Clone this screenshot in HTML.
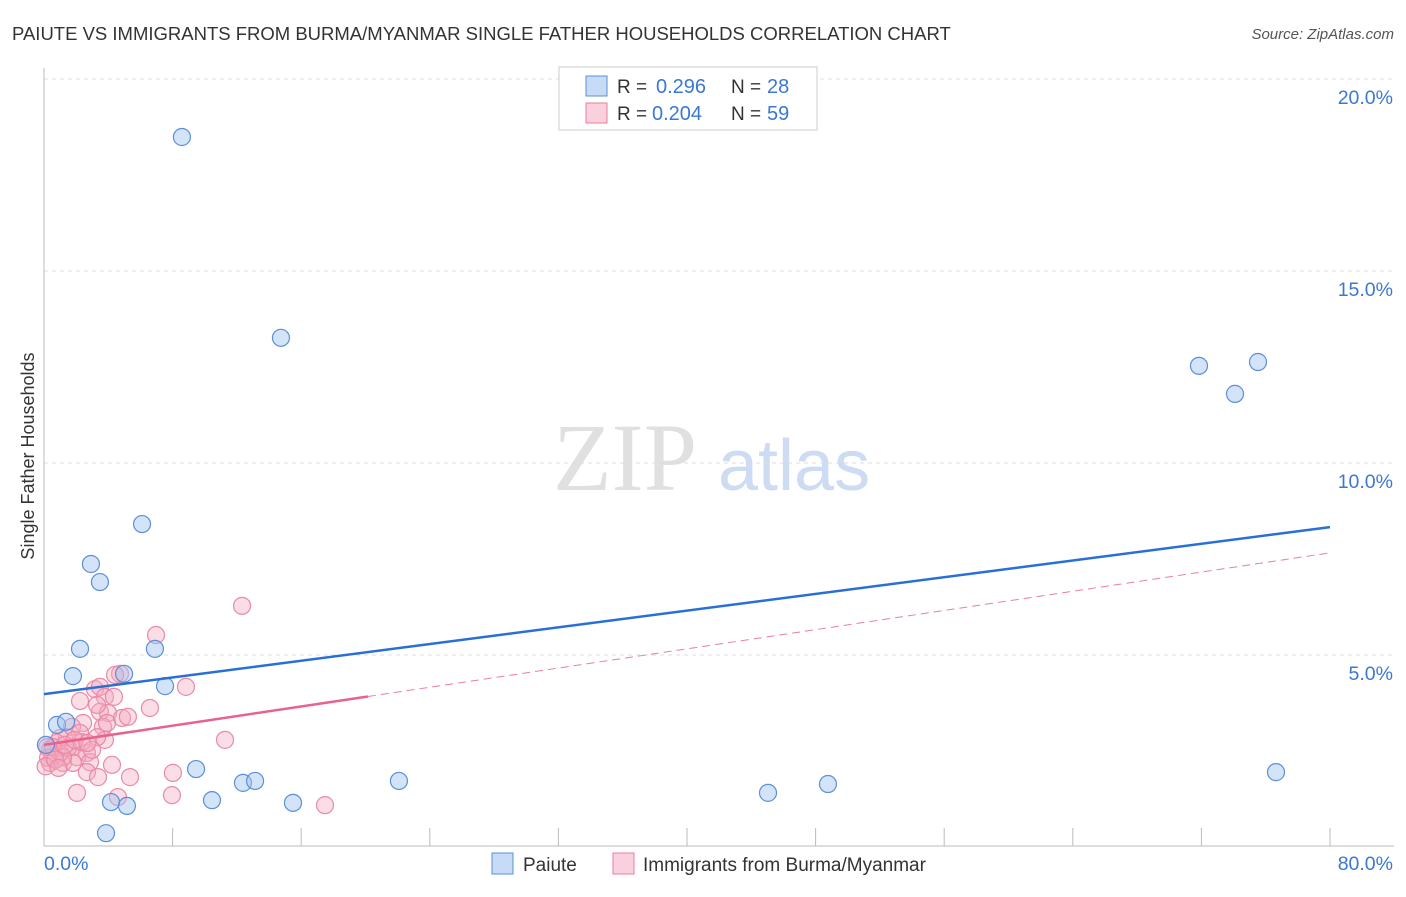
<!DOCTYPE html>
<html><head><meta charset="utf-8"><style>
body{margin:0;background:#fff;font-family:"Liberation Sans",sans-serif}
</style></head><body>
<svg id="chart" width="1406" height="892" xmlns="http://www.w3.org/2000/svg" font-family="Liberation Sans, sans-serif">
<text x="12" y="40" font-size="18.5" fill="#333">PAIUTE VS IMMIGRANTS FROM BURMA/MYANMAR SINGLE FATHER HOUSEHOLDS CORRELATION CHART</text>
<text x="1394" y="39" font-size="15" fill="#555" text-anchor="end" font-style="italic">Source: ZipAtlas.com</text>
<g>
<text x="553" y="490" font-size="96" fill="#e0e0e0" font-family="Liberation Serif, serif">ZIP</text>
<text x="718" y="490" font-size="72" fill="#cddcf3">atlas</text>
</g>
<g id="grid"></g>
<g id="axes"></g>
<g id="marks"></g>
<text transform="translate(34,456) rotate(-90)" font-size="18" fill="#333" text-anchor="middle">Single Father Households</text>
<g>
<rect x="559" y="67" width="258" height="63" fill="#fff" stroke="#ccc"/>
<rect x="586" y="76" width="21" height="20" fill="rgba(160,196,240,0.6)" stroke="#5b8fd9"/>
<rect x="586" y="103" width="21" height="20" fill="rgba(244,170,190,0.55)" stroke="#e87fa0"/>
<text x="617" y="93" font-size="19" fill="#333">R = </text><text x="656" y="93" font-size="20" fill="#3a78d4">0.296</text>
<text x="731" y="93" font-size="19" fill="#333">N = </text><text x="767" y="93" font-size="20" fill="#3a78d4">28</text>
<text x="617" y="120" font-size="19" fill="#333">R = </text><text x="652" y="120" font-size="20" fill="#3a78d4">0.204</text>
<text x="731" y="120" font-size="19" fill="#333">N = </text><text x="767" y="120" font-size="20" fill="#3a78d4">59</text>
</g>
<g>
<rect x="492" y="853" width="21" height="21" fill="rgba(160,196,240,0.6)" stroke="#5b8fd9"/>
<text x="523" y="871" font-size="19" fill="#333">Paiute</text>
<rect x="613" y="853" width="21" height="21" fill="rgba(244,170,190,0.55)" stroke="#e87fa0"/>
<text x="643" y="871" font-size="19" fill="#333">Immigrants from Burma/Myanmar</text>
</g>
</svg>
<script>
const xTicks=[0,8,16,24,32,40,48,56,64,72,80];
const yTicks=[5,10,15,20];
const yTickLabels=["5.0%","10.0%","15.0%","20.0%"];
const xEndLabels=["0.0%","80.0%"];
const paiuteX=[8.58,14.74,6.10,2.92,3.48,2.24,6.90,1.80,4.98,7.53,0.81,1.37,9.46,12.38,13.13,10.45,15.49,4.17,5.16,3.86,22.08,45.04,48.77,71.85,74.09,75.52,76.64,0.12];
const paiuteY=[18.49,13.26,8.41,7.37,6.90,5.16,5.16,4.45,4.51,4.19,3.18,3.26,2.03,1.67,1.72,1.22,1.15,1.17,1.07,0.36,1.72,1.41,1.64,12.53,11.80,12.63,1.95,2.66];
const burmaX=[12.32,6.97,4.73,4.42,3.17,3.48,8.83,2.24,3.79,4.35,6.59,3.48,3.98,4.85,5.22,3.67,2.43,1.74,11.26,3.79,3.30,2.24,1.43,0.81,0.37,0.56,1.00,1.80,2.67,0.37,2.05,2.86,2.67,3.36,4.23,5.35,8.02,2.05,4.60,7.96,17.48,0.19,0.25,1.18,1.49,2.36,1.00,1.80,2.99,0.56,1.18,3.92,3.30,0.1,0.7,1.3,1.9,0.9,2.7];
const burmaY=[6.28,5.52,4.51,4.48,4.11,4.17,4.17,3.80,3.91,3.91,3.62,3.52,3.49,3.36,3.39,3.13,3.23,3.13,2.79,2.79,2.86,2.97,2.86,2.71,2.53,2.34,2.45,2.60,2.45,2.19,2.34,2.21,1.95,1.82,2.14,1.82,1.93,1.41,1.30,1.35,1.09,2.60,2.32,2.19,2.58,2.73,2.84,2.19,2.53,2.60,2.34,3.23,3.70,2.1,2.27,2.66,2.79,2.06,2.71];
const paiuteTrend=[3.98,8.33];
const burmaTrend=[2.66,7.66];
const burmaSolidEnd=20.15;
const NS="http://www.w3.org/2000/svg";
const sx=v=>44+v/80*1286, sy=v=>847-v/5*192;
function mk(tag,attrs,parent){const e=document.createElementNS(NS,tag);for(const k in attrs)e.setAttribute(k,attrs[k]);document.getElementById(parent).appendChild(e);return e;}
yTicks.forEach((t,i)=>{
 const g=mk('line',{x1:44,x2:1394,y1:sy(t),y2:sy(t),stroke:'#ddd','stroke-dasharray':'4,4'},'grid');
 
 
 const l=mk('text',{x:1393,y:sy(t)+25,'font-size':19.5,fill:'#3a78d4','text-anchor':'end'},'axes');
 l.textContent=yTickLabels[i];
 
 
});
const ya=mk('line',{x1:44,x2:44,y1:68,y2:846,stroke:'#bbb'},'axes');


const xa=mk('line',{x1:44,x2:1394,y1:846,y2:846,stroke:'#bbb'},'axes');


xTicks.forEach(t=>{
 const k=mk('line',{x1:sx(t),x2:sx(t),y1:828,y2:846,stroke:'#bbb'},'axes');
 
 
});
[[0,'start'],[80,'end']].forEach((p,i)=>{
 const l=mk('text',{x:i?1393:44,y:870,'font-size':19.5,fill:'#3a78d4','text-anchor':p[1]},'axes');
 l.textContent=xEndLabels[i];
 
 
});
burmaX.forEach((x,i)=>{
 const c=mk('circle',{cx:sx(x),cy:sy(burmaY[i]),r:8.5,fill:'rgba(244,170,190,0.4)',stroke:'#e88aa8','stroke-width':1.2},'marks');
 
 
});
paiuteX.forEach((x,i)=>{
 const c=mk('circle',{cx:sx(x),cy:sy(paiuteY[i]),r:8.5,fill:'rgba(160,196,240,0.45)',stroke:'#5b8fd9','stroke-width':1.2},'marks');
 
 
});
const bt=v=>burmaTrend[0]+(burmaTrend[1]-burmaTrend[0])*v/80;
const d=mk('line',{x1:sx(burmaSolidEnd),y1:sy(bt(burmaSolidEnd)),x2:sx(80),y2:sy(burmaTrend[1]),stroke:'#e87fa0','stroke-width':1,'stroke-dasharray':'8,5'},'marks');


const s=mk('line',{x1:sx(0),y1:sy(burmaTrend[0]),x2:sx(burmaSolidEnd),y2:sy(bt(burmaSolidEnd)),stroke:'#e8628f','stroke-width':2.5},'marks');


const p=mk('line',{x1:sx(0),y1:sy(paiuteTrend[0]),x2:sx(80),y2:sy(paiuteTrend[1]),stroke:'#2a6fd6','stroke-width':2.5},'marks');


</script>
</body></html>
